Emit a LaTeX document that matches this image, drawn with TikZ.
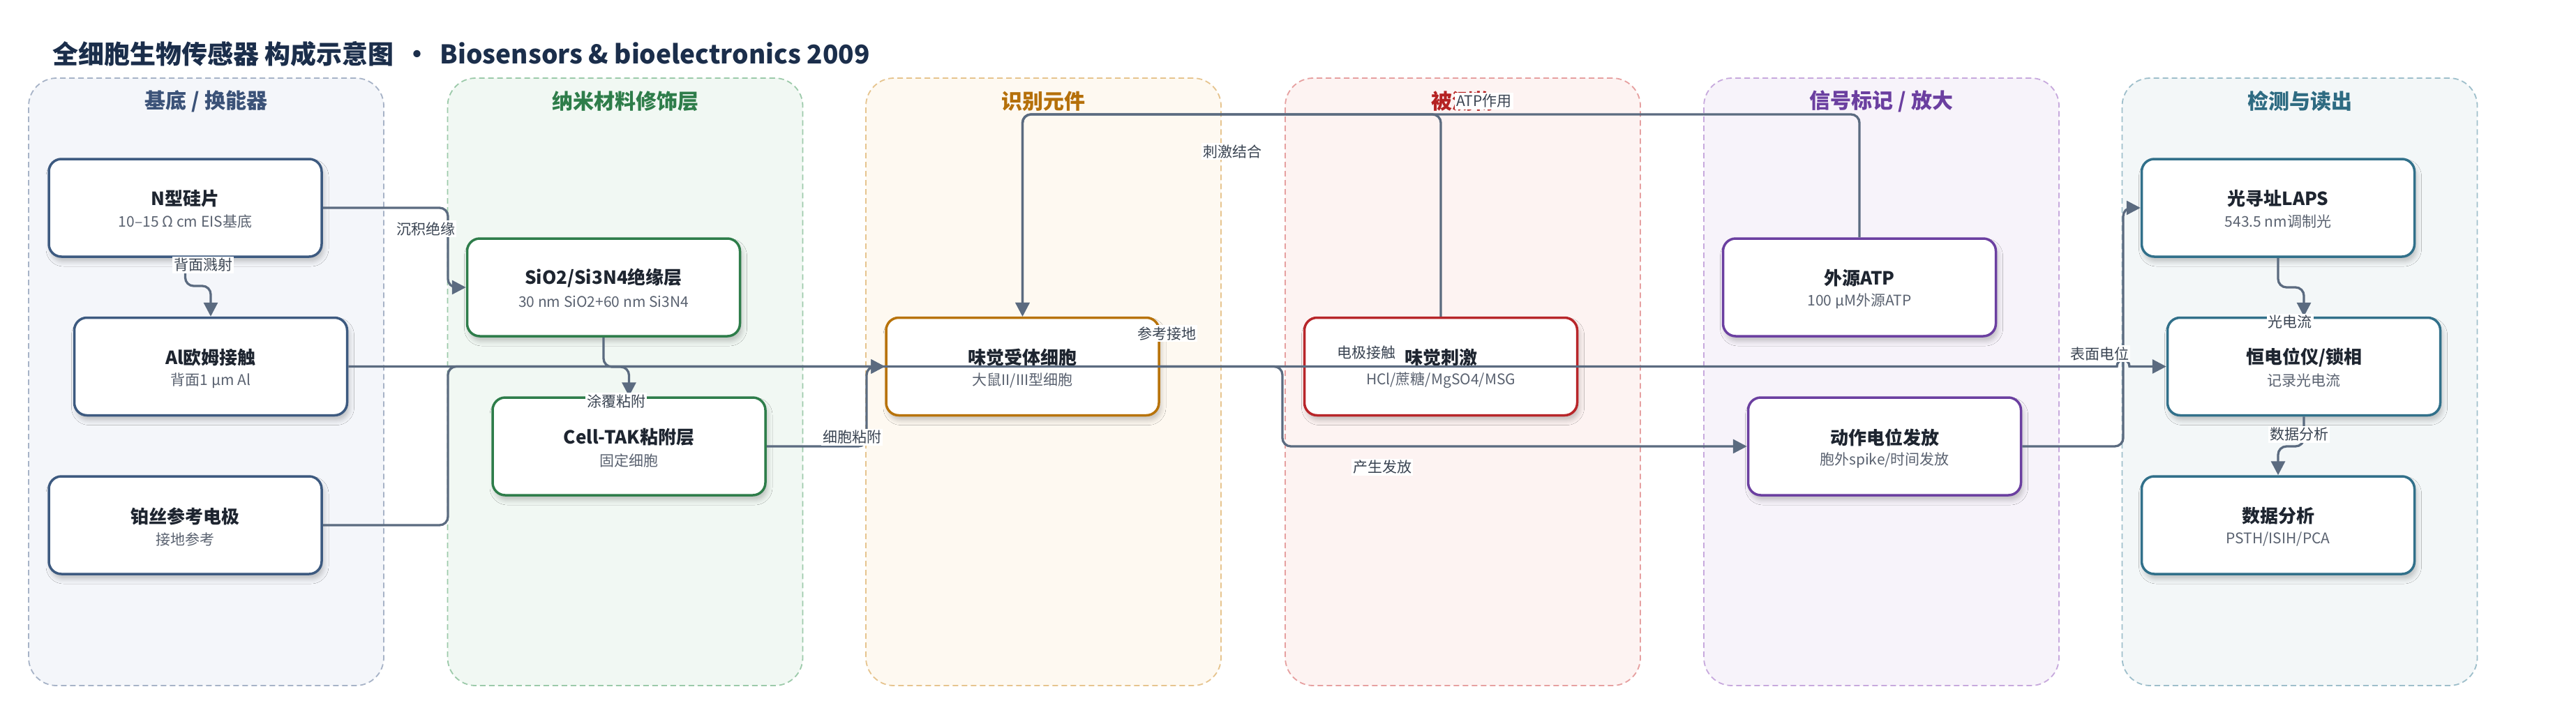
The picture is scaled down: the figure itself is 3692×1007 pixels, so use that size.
\documentclass[tikz,border=0pt]{standalone}
\usepackage{fontspec}
\setmainfont{Noto Sans CJK SC}
\usetikzlibrary{arrows.meta,shadows.blur}
\definecolor{ptitle}{HTML}{1B2E4B}
\definecolor{edgecol}{HTML}{5B6B80}
\definecolor{lblcol}{HTML}{3A4452}
\definecolor{ttlcol}{HTML}{1E2530}
\definecolor{subcol}{HTML}{5A6270}
\definecolor{pfA}{HTML}{F4F6FA}\definecolor{pbA}{HTML}{A7B3C7}\definecolor{ptA}{HTML}{3B5278}\definecolor{nbA}{HTML}{3D5A80}
\definecolor{pfB}{HTML}{F1F8F3}\definecolor{pbB}{HTML}{9CCAAA}\definecolor{ptB}{HTML}{2E7D4A}\definecolor{nbB}{HTML}{2E7D4A}
\definecolor{pfC}{HTML}{FEF9F1}\definecolor{pbC}{HTML}{E6C48E}\definecolor{ptC}{HTML}{B5700A}\definecolor{nbC}{HTML}{B8730A}
\definecolor{pfD}{HTML}{FDF3F2}\definecolor{pbD}{HTML}{E6A0A0}\definecolor{ptD}{HTML}{B52222}\definecolor{nbD}{HTML}{B8262A}
\definecolor{pfE}{HTML}{F7F3FA}\definecolor{pbE}{HTML}{C7A9DD}\definecolor{ptE}{HTML}{6B3FA0}\definecolor{nbE}{HTML}{6B3FA0}
\definecolor{pfF}{HTML}{F3F7F8}\definecolor{pbF}{HTML}{9EBFCB}\definecolor{ptF}{HTML}{2E6B82}\definecolor{nbF}{HTML}{31708A}
\tikzset{
  panelbox/.style={draw=#1, line width=1.8pt, dash pattern=on 8pt off 5pt, rounded corners=40pt, minimum width=509pt, minimum height=871pt, inner sep=0pt},
  paneltitle/.style={text=#1, font=\fontsize{30}{30}\selectfont\bfseries, inner sep=0pt},
  boxnode/.style={draw=#1, line width=3.5pt, rounded corners=18pt, fill=white, minimum width=391pt, minimum height=140pt, inner sep=0pt,
    blur shadow={shadow xshift=3pt, shadow yshift=-7pt, shadow blur radius=7pt, shadow opacity=22}},
  ttl/.style={text=ttlcol, font=\fontsize{26}{26}\selectfont\bfseries, inner sep=0pt},
  subt/.style={text=subcol, font=\fontsize{21}{21}\selectfont, inner sep=0pt},
  conn/.style={draw=edgecol, line width=3.3pt, rounded corners=12pt, -{Triangle[length=20pt,width=20pt]}},
  elabel/.style={fill=white, text=lblcol, font=\fontsize{21}{21}\selectfont, inner sep=2pt}
}
\newcommand\mkbox[5]{%
  \node[boxnode=#3] (#1) at (#2) {};
  \node[ttl] (#1-t) at ([yshift=13pt]#1.center) {#4};
  \node[subt] (#1-s) at ([yshift=-20pt]#1.center) {#5};
}
\begin{document}
\begin{tikzpicture}[x=1pt,y=-1pt]
\fill[white] (0,0) rectangle (3692,1007);
\useasboundingbox (0,0) rectangle (3692,1007);
% title
\node[anchor=west, text=ptitle, font=\fontsize{37}{37}\selectfont\bfseries, inner sep=0pt] (title) at (75,77) {全细胞生物传感器 构成示意图 \,•\, Biosensors \& bioelectronics 2009};
% panels
\node[panelbox=pbA, fill=pfA] (pA) at (295.5,547.5) {};
\node[panelbox=pbB, fill=pfB] (pB) at (896,547.5) {};
\node[panelbox=pbC, fill=pfC] (pC) at (1495.5,547.5) {};
\node[panelbox=pbD, fill=pfD] (pD) at (2096.5,547.5) {};
\node[panelbox=pbE, fill=pfE] (pE) at (2696.5,547.5) {};
\node[panelbox=pbF, fill=pfF] (pF) at (3296,547.5) {};
\node[paneltitle=ptA] (tA) at (295.5,145) {基底 / 换能器};
\node[paneltitle=ptB] (tB) at (896,145) {纳米材料修饰层};
\node[paneltitle=ptC] (tC) at (1495.5,145) {识别元件};
\node[paneltitle=ptD] (tD) at (2096.5,145) {被测物};
\node[paneltitle=ptE] (tE) at (2696.5,145) {信号标记 / 放大};
\node[paneltitle=ptF] (tF) at (3296,145) {检测与读出};
% nodes
\mkbox{si}{265.5,298}{nbA}{N型硅片}{10–15 Ω cm EIS基底}
\mkbox{al}{302,525.5}{nbA}{Al欧姆接触}{背面1 μm Al}
\mkbox{pt}{265.5,753}{nbA}{铂丝参考电极}{接地参考}
\mkbox{sio}{865,412}{nbB}{SiO2/Si3N4绝缘层}{30 nm SiO2+60 nm Si3N4}
\mkbox{tak}{901.5,640}{nbB}{Cell-TAK粘附层}{固定细胞}
\mkbox{cell}{1465.5,525.5}{nbC}{味觉受体细胞}{大鼠II/III型细胞}
\mkbox{stim}{2065,525.5}{nbD}{味觉刺激}{HCl/蔗糖/MgSO4/MSG}
\mkbox{atp}{2665,412}{nbE}{外源ATP}{100 μM外源ATP}
\mkbox{ap}{2701,640}{nbE}{动作电位发放}{胞外spike/时间发放}
\mkbox{laps}{3265,298}{nbF}{光寻址LAPS}{543.5 nm调制光}
\mkbox{pot}{3302,525.5}{nbF}{恒电位仪/锁相}{记录光电流}
\mkbox{da}{3265,753}{nbF}{数据分析}{PSTH/ISIH/PCA}
% connectors
\draw[conn] (si.east) -- (642,298) -- (642,412) -- (sio.west);
\draw[conn] (si.south) -- (265.5,410) -- (302,410) -- (al.north);
\draw[conn] (sio.south) -- (865,526) -- (901.5,526) -- (tak.north);
\draw[conn] (pt.east) -- (642,753) -- (642,525.5) -- (cell.west);
\draw[conn] (tak.east) -- (1242,640) -- (1242,525.5) -- (cell.west);
\draw[conn] (stim.north) -- (2065,164) -- (1465.5,164) -- (cell.north);
\draw[conn] (atp.north) -- (2665,164) -- (1465.5,164) -- (cell.north);
\draw[conn] (cell.east) -- (1838,525.5) -- (1838,640) -- (ap.west);
\draw[conn] (ap.east) -- (3043,640) -- (3043,298) -- (laps.west);
\draw[conn] (laps.south) -- (3265,412) -- (3302,412) -- (pot.north);
\draw[conn] (pot.south) -- (3302,640) -- (3265,640) -- (da.north);
\draw[conn, rounded corners=0pt] (al.east) -- (3034,525.5) .. controls (3034,513) and (3052,513) .. (3052,525.5) -- (pot.west);
% connector labels
\node[elabel] (l1) at (610,328) {沉积绝缘};
\node[elabel] (l2) at (291,380) {背面溅射};
\node[elabel] (l3) at (883,575) {涂覆粘附};
\node[elabel] (l4) at (1221,627) {细胞粘附};
\node[elabel] (l5) at (1766,217) {刺激结合};
\node[elabel] (l6) at (2127,145) {ATP作用};
\node[elabel] (l7) at (1672,478) {参考接地};
\node[elabel] (l8) at (1958,506) {电极接触};
\node[elabel] (l9) at (1981,670) {产生发放};
\node[elabel] (l10) at (3009,507) {表面电位};
\node[elabel] (l11) at (3282,462) {光电流};
\node[elabel] (l12) at (3295,623) {数据分析};
\end{tikzpicture}
\end{document}
